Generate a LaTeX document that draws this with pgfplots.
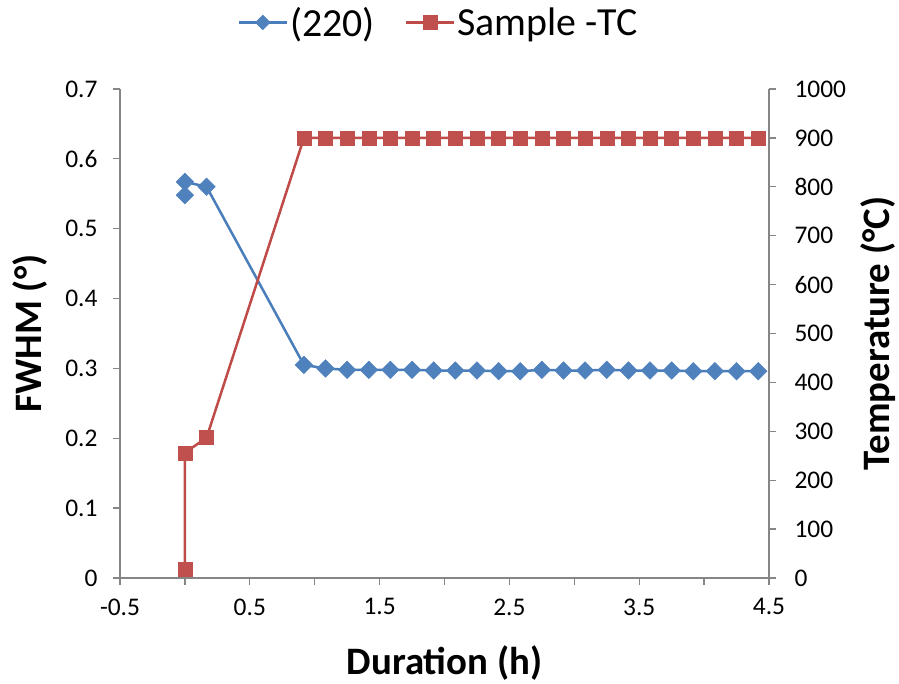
\documentclass[border=0pt]{standalone}
\usepackage{pgfplots}
\pgfplotsset{compat=1.18}
\usepackage{fontspec}
\setmainfont{Carlito}
\definecolor{bline}{HTML}{4A7EBB}
\definecolor{bmark}{HTML}{4F81BD}
\definecolor{rline}{HTML}{BE4B48}
\definecolor{rmark}{HTML}{C0504D}
\definecolor{axgray}{HTML}{868686}
\pgfplotstableread{
x y
0 0.548
0 0.567
0.167 0.560
0.917 0.305
1.083 0.300
1.25 0.298
1.417 0.298
1.583 0.298
1.75 0.298
1.917 0.297
2.083 0.297
2.25 0.297
2.417 0.296
2.583 0.296
2.75 0.298
2.917 0.297
3.083 0.297
3.25 0.298
3.417 0.297
3.583 0.297
3.75 0.297
3.917 0.296
4.083 0.296
4.25 0.296
4.417 0.296
}\fwhm
\pgfplotstableread{
x y
0 17
0 256
0.167 287
0.917 900
1.083 900
1.25 900
1.417 900
1.583 900
1.75 900
1.917 900
2.083 900
2.25 900
2.417 900
2.583 900
2.75 900
2.917 900
3.083 900
3.25 900
3.417 900
3.583 900
3.75 900
3.917 900
4.083 900
4.25 900
4.417 900
}\temp
\begin{document}
\begin{tikzpicture}[x=1bp,y=1bp]
\useasboundingbox (0,0) rectangle (899,684);
\pgfplotsset{
  common/.style={
    at={(120bp,106bp)}, anchor=south west,
    width=649bp, height=489bp, scale only axis,
    xmin=-0.5, xmax=4.5,
    xtick={-0.5,0.5,1.5,2.5,3.5,4.5},
    minor xtick={0,1,2,3,4},
    /pgf/number format/assume math mode=true,
    /pgf/number format/1000 sep={},
    ticklabel style={font=\fontsize{25.5}{28}\selectfont},
    label style={font=\fontsize{39}{42}\selectfont\bfseries},
    axis line style={axgray, line width=1.3bp},
    tick style={axgray, line width=1.3bp},
    major tick length=7bp, minor tick length=7bp,
    tick align=outside,
  },
}
\begin{axis}[common,
  axis x line*=bottom, axis y line*=left,
  ymin=0, ymax=0.7, ytick={0,0.1,...,0.7},
  yticklabel style={/pgf/number format/fixed, /pgf/number format/precision=1, xshift=-12bp},
  xticklabel style={/pgf/number format/fixed, /pgf/number format/precision=1, yshift=-10bp},
  ylabel={FWHM (°)},
  xlabel={Duration (h)},
  ylabel style={at={(axis description cs:-0.139,0.5)}, anchor=center, rotate=0},
  xlabel style={at={(axis description cs:0.5,-0.174)}, anchor=center},
]
\addplot[bline, line width=2.5bp, mark=square*, mark size=6.2bp,
  mark options={fill=bmark, draw=bmark, line width=0.5bp, rotate=45}] table[x=x,y=y] {\fwhm};
\end{axis}
\begin{axis}[common,
  axis x line=none, axis y line*=right,
  ymin=0, ymax=1000, ytick={0,100,...,1000},
  yticklabel style={xshift=15bp},
  ylabel={Temperature (°C)},
  ylabel style={at={(axis description cs:1.168,0.5)}, anchor=center, rotate=0},
  legend style={at={(0.5,1)}, anchor=south, yshift=47bp, xshift=-6bp, draw=none, fill=none,
    font=\fontsize{40}{43}\selectfont, legend columns=2,
    /tikz/every even column/.append style={column sep=28bp}},
  legend cell align=left,
  legend image code/.code={
    \draw[#1] (0bp,0bp) -- (48bp,0bp);
    \draw[#1, mark repeat=2, mark phase=2] plot coordinates {(0bp,0bp) (24bp,0bp) (48bp,0bp)};
  },
]
\addlegendimage{bline, line width=2.5bp, mark=square*, mark size=5.2bp,
  mark options={fill=bmark, draw=bmark, line width=0.5bp, rotate=45}}
\addlegendentry{(220)}
\addplot[rline, line width=2.5bp, mark=square*, mark size=7bp,
  mark options={fill=rmark, draw=rmark, line width=0.5bp}] table[x=x,y=y] {\temp};
\addlegendentry{Sample -TC}
\end{axis}
\end{tikzpicture}
\end{document}
